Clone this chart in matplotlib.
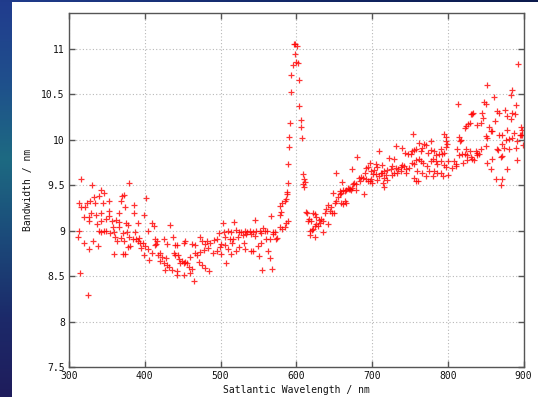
import matplotlib
matplotlib.use("Agg")
import matplotlib.pyplot as plt
import numpy as np
from matplotlib.colors import LinearSegmentedColormap

# 300 - 400 nm
wl_a = [315.8, 329.9, 379.6, 313.6, 315.4, 321.5, 323.3, 327.7, 333.4, 334.7,
        340.0, 342.2, 346.6, 345.3, 353.2, 369.9, 373.0, 368.6, 374.3, 386.2,
        385.3, 366.4, 352.3, 342.6, 335.6, 329.0, 320.2, 325.9, 326.8, 336.5,
        342.2, 348.8, 353.2, 356.7, 362.0, 365.5, 357.6, 366.4, 375.2, 377.4,
        390.6, 399.4, 312.7, 340.0, 342.2, 346.6, 348.8, 354.1, 359.8, 361.1,
        362.9, 368.6, 373.0, 370.8, 376.1, 379.6, 384.0, 380.9, 378.3, 387.5,
        388.4, 390.6, 391.9, 393.7, 395.0, 398.1, 400.7, 311.8, 320.2, 332.1,
        325.9, 338.7, 359.8, 371.7, 374.3, 399.4, 314.9, 324.6]
bw_a = [9.57, 9.50, 9.53, 9.30, 9.26, 9.26, 9.31, 9.33, 9.37, 9.30,
        9.38, 9.45, 9.41, 9.31, 9.33, 9.38, 9.39, 9.33, 9.26, 9.28,
        9.20, 9.20, 9.22, 9.20, 9.17, 9.20, 9.15, 9.11, 9.15, 9.07,
        9.11, 9.13, 9.16, 9.11, 9.12, 9.10, 9.04, 9.04, 9.08, 9.06,
        9.08, 9.17, 9.00, 9.00, 8.99, 9.00, 9.00, 8.97, 8.99, 8.93,
        8.89, 8.92, 8.89, 8.97, 8.99, 8.93, 8.91, 8.83, 8.82, 8.99,
        8.91, 8.89, 8.92, 8.86, 8.81, 8.86, 8.83, 8.93, 8.86, 8.89,
        8.80, 8.83, 8.74, 8.74, 8.74, 8.73, 8.53, 8.29]

# 400 - 500 nm
wl_b = [401.7, 409.6, 411.8, 403.9, 433.8, 437.3, 414.0, 416.2, 414.9, 413.1,
        425.0, 429.4, 440.4, 442.6, 451.4, 453.6, 462.4, 466.8, 473.4, 475.6,
        480.0, 482.2, 486.6, 491.0, 495.4, 498.5, 500.7, 404.3, 409.6, 420.6,
        417.5, 422.8, 428.1, 438.2, 439.5, 443.9, 445.7, 449.2, 453.6, 460.2,
        466.8, 469.0, 473.4, 477.8, 483.5, 489.7, 495.4, 499.8, 406.1, 420.6,
        425.0, 429.4, 427.2, 431.6, 436.0, 442.6, 447.0, 451.4, 455.8, 458.0,
        462.4, 460.2, 471.2, 475.6, 480.0, 484.4, 442.6, 451.4, 464.6]
bw_b = [9.36, 9.08, 9.05, 9.00, 9.06, 8.93, 8.91, 8.89, 8.85, 8.84,
        8.91, 8.85, 8.84, 8.84, 8.87, 8.89, 8.85, 8.84, 8.93, 8.89,
        8.85, 8.89, 8.87, 8.90, 8.91, 8.97, 8.85, 8.80, 8.76, 8.76,
        8.73, 8.71, 8.70, 8.76, 8.73, 8.73, 8.69, 8.67, 8.66, 8.71,
        8.76, 8.73, 8.77, 8.79, 8.81, 8.76, 8.78, 8.82, 8.68, 8.67,
        8.65, 8.62, 8.57, 8.60, 8.57, 8.56, 8.64, 8.65, 8.64, 8.60,
        8.58, 8.54, 8.66, 8.62, 8.59, 8.56, 8.51, 8.51, 8.45]

# 500 - 580 nm
wl_c = [503.3, 517.8, 545.1, 566.2, 578.1, 580.3, 504.6, 509.9, 514.3, 520.9,
        524.0, 527.5, 531.9, 535.4, 538.5, 542.9, 547.3, 551.7, 556.1, 558.3,
        561.8, 569.3, 572.4, 578.1, 581.6, 584.7, 586.9, 589.1, 506.4, 512.1,
        516.5, 523.1, 529.7, 534.1, 540.7, 545.1, 553.9, 560.5, 564.9, 573.7,
        569.3, 575.0, 505.5, 509.9, 515.2, 520.9, 524.0, 531.0, 531.9, 540.7,
        542.9, 549.5, 553.0, 562.7, 501.1, 514.3, 507.7, 550.4, 564.9, 554.8,
        568.0]
bw_c = [9.08, 9.10, 9.12, 9.16, 9.17, 9.21, 8.99, 9.00, 8.99, 9.01,
        8.99, 8.99, 9.00, 8.99, 9.00, 8.99, 9.00, 9.00, 9.03, 9.00,
        9.00, 8.99, 8.99, 9.04, 9.02, 9.04, 9.08, 9.11, 8.93, 8.91,
        8.91, 8.93, 8.95, 8.96, 8.96, 8.94, 8.97, 8.91, 8.91, 8.91,
        8.96, 8.92, 8.84, 8.80, 8.86, 8.78, 8.82, 8.86, 8.80, 8.78,
        8.78, 8.83, 8.86, 8.78, 8.74, 8.74, 8.64, 8.72, 8.70, 8.57,
        8.58]

# peak around 600 nm
wl_peak = [579.0, 581.2, 584.7, 586.0, 587.8, 588.2, 589.5, 589.5, 590.8, 590.8,
           591.7, 593.0, 593.5, 596.1, 596.5, 598.3, 600.5, 598.3, 599.6, 602.7,
           603.6, 604.0, 605.8, 606.2, 607.1, 608.6, 610.5, 611.2, 609.5, 609.6]
bw_peak = [9.27, 9.30, 9.33, 9.35, 9.40, 9.43, 9.53, 9.74, 9.92, 10.03,
           10.19, 10.53, 10.71, 10.82, 11.05, 11.06, 11.03, 10.95, 10.86, 10.85,
           10.66, 10.37, 10.22, 10.14, 10.02, 9.62, 9.57, 9.54, 9.51, 9.48]

# 610 - 700 nm
wl_d = [612.4, 614.2, 622.1, 624.3, 616.8, 615.5, 619.9, 626.5, 630.0, 633.1,
        635.3, 630.9, 626.5, 628.7, 624.3, 622.1, 618.6, 621.2, 617.7, 624.3,
        635.3, 641.9, 637.5, 639.7, 641.9, 644.1, 646.3, 647.6, 649.4, 650.7,
        652.9, 648.5, 652.9, 655.1, 657.3, 658.2, 659.5, 661.7, 663.9, 666.1,
        660.8, 659.5, 661.7, 663.9, 666.1, 668.3, 669.6, 671.4, 672.7, 674.0,
        674.9, 675.8, 678.4, 679.3, 680.2, 674.0, 682.8, 683.7, 685.9, 688.1,
        690.3, 692.5, 694.7, 697.8, 699.1, 692.5, 694.7, 699.1, 696.9, 689.0,
        701.3]
bw_d = [9.21, 9.20, 9.20, 9.18, 9.13, 9.11, 9.11, 9.15, 9.12, 9.13,
        9.11, 9.09, 9.07, 9.05, 9.05, 9.02, 9.00, 9.01, 8.95, 8.93,
        8.99, 9.07, 9.20, 9.24, 9.28, 9.22, 9.26, 9.20, 9.19, 9.31,
        9.33, 9.42, 9.63, 9.37, 9.40, 9.44, 9.31, 9.29, 9.33, 9.31,
        9.54, 9.42, 9.45, 9.44, 9.45, 9.47, 9.46, 9.46, 9.45, 9.47,
        9.51, 9.53, 9.51, 9.45, 9.81, 9.68, 9.58, 9.55, 9.59, 9.58,
        9.64, 9.69, 9.70, 9.75, 9.66, 9.57, 9.55, 9.57, 9.55, 9.40,
        9.62]

# 700 - 800 nm
wl_e = [754.1, 762.0, 768.6, 777.4, 795.0, 797.2, 798.1, 799.4, 732.1, 740.0,
        709.2, 722.4, 729.0, 743.5, 747.9, 751.0, 753.2, 755.4, 757.6, 764.2,
        766.4, 770.8, 774.3, 777.4, 781.8, 784.0, 788.4, 790.6, 791.9, 795.0,
        798.1, 800.7, 704.8, 707.0, 702.6, 713.6, 711.4, 715.8, 720.2, 724.6,
        726.8, 731.2, 734.7, 737.8, 740.0, 742.2, 745.3, 748.8, 752.3, 755.4,
        757.6, 762.0, 764.2, 767.3, 773.0, 777.4, 780.5, 784.0, 786.2, 790.6,
        795.0, 798.1, 704.8, 709.2, 712.7, 715.8, 718.0, 720.2, 726.8, 729.0,
        733.4, 737.8, 744.4, 755.4, 757.6, 759.8, 766.4, 770.8, 775.2, 781.8,
        786.2, 790.6, 793.7, 780.5, 707.0, 714.5, 715.8, 700.4, 761.1]
bw_e = [10.07, 9.97, 9.96, 9.99, 10.07, 10.03, 9.99, 9.96, 9.93, 9.91,
        9.88, 9.80, 9.79, 9.86, 9.84, 9.85, 9.88, 9.89, 9.90, 9.88,
        9.91, 9.94, 9.86, 9.89, 9.88, 9.83, 9.85, 9.90, 9.85, 9.86,
        9.92, 9.77, 9.73, 9.70, 9.67, 9.72, 9.63, 9.66, 9.67, 9.68,
        9.71, 9.69, 9.68, 9.70, 9.72, 9.71, 9.68, 9.69, 9.75, 9.73,
        9.78, 9.79, 9.77, 9.75, 9.71, 9.77, 9.79, 9.77, 9.74, 9.77,
        9.72, 9.70, 9.62, 9.60, 9.64, 9.58, 9.61, 9.56, 9.61, 9.64,
        9.63, 9.66, 9.63, 9.58, 9.55, 9.66, 9.64, 9.60, 9.66, 9.66,
        9.64, 9.64, 9.60, 9.60, 9.56, 9.52, 9.48, 9.52, 9.55]

# 800 - 900 nm
wl_f = [892.7, 851.3, 885.2, 861.0, 813.5, 847.8, 850.0, 883.0, 833.7, 832.4,
        830.2, 845.6, 865.4, 867.6, 875.1, 885.2, 888.3, 889.6, 846.9, 877.7,
        883.9, 823.6, 822.3, 826.7, 829.3, 839.0, 844.3, 854.4, 861.9, 878.6,
        856.6, 858.8, 887.4, 897.1, 898.4, 896.2, 814.8, 817.0, 816.1, 850.0,
        851.3, 867.6, 872.0, 876.4, 880.8, 885.2, 891.8, 895.3, 898.4, 812.6,
        823.6, 829.3, 836.8, 839.0, 843.4, 850.0, 864.5, 866.3, 872.0, 874.2,
        880.8, 889.6, 899.7, 808.2, 810.4, 814.8, 819.2, 822.3, 825.8, 830.2,
        832.4, 839.0, 841.2, 820.5, 824.9, 834.6, 852.2, 858.8, 869.8, 872.0,
        890.9, 806.0, 810.4, 800.3, 857.5, 878.6, 863.2, 872.0, 869.8]
bw_f = [10.83, 10.60, 10.55, 10.47, 10.40, 10.42, 10.39, 10.49, 10.30, 10.29,
        10.29, 10.30, 10.32, 10.30, 10.33, 10.30, 10.29, 10.38, 10.24, 10.26,
        10.23, 10.15, 10.13, 10.18, 10.19, 10.16, 10.19, 10.14, 10.21, 10.11,
        10.10, 10.10, 10.08, 10.14, 10.11, 10.05, 10.03, 10.00, 9.99, 10.04,
        10.02, 10.05, 10.05, 10.00, 10.01, 10.02, 9.99, 10.05, 10.05, 9.90,
        9.90, 9.88, 9.88, 9.86, 9.90, 9.93, 9.90, 9.89, 9.96, 9.91,
        9.90, 9.91, 9.94, 9.77, 9.74, 9.83, 9.85, 9.85, 9.83, 9.81,
        9.79, 9.83, 9.85, 9.75, 9.78, 9.78, 9.75, 9.79, 9.81, 9.82,
        9.78, 9.69, 9.71, 9.61, 9.68, 9.68, 9.57, 9.57, 9.50]

xticks = [300, 400, 500, 600, 700, 800, 900]
yticks = [7.5, 8, 8.5, 9, 9.5, 10, 10.5, 11]
ytick_labels = ["7.5", "8", "8.5", "9", "9.5", "10", "10.5", "11"]

wl = np.concatenate([wl_a, wl_b, wl_c, wl_peak, wl_d, wl_e, wl_f])
bw = np.concatenate([bw_a, bw_b, bw_c, bw_peak, bw_d, bw_e, bw_f])

plt.rcParams['font.family'] = ['DejaVu Sans Mono']

fig = plt.figure(figsize=(5.38, 3.97), dpi=100)
fig.patch.set_facecolor("white")

# blue slide decoration: left stripe and top stripe
side_cmap = LinearSegmentedColormap.from_list(
    "side", ["#213c8e", "#1f4f8c", "#1d6a82", "#1b4a7a", "#1c2a6a", "#1f1d5c"])
side = fig.add_axes([0, 0, 12 / 538, 1])
side.imshow(np.linspace(0, 1, 200).reshape(-1, 1), cmap=side_cmap, aspect="auto")
side.axis("off")
top_cmap = LinearSegmentedColormap.from_list("top", ["#203c8c", "#13296a", "#0b1a4c"])
top = fig.add_axes([0, 1 - 2.5 / 397, 1, 2.5 / 397])
top.imshow(np.linspace(0, 1, 200).reshape(1, -1), cmap=top_cmap, aspect="auto")
top.axis("off")

ax = fig.add_axes([69 / 538, 1 - 367 / 397, 454.5 / 538, (367 - 12.7) / 397])
ax.plot(wl, bw, linestyle="none", marker="+", markersize=5, markeredgewidth=0.9,
        color="#ff0000", alpha=0.8)

ax.set_xlim(300, 900)
ax.set_ylim(7.5, 11.4)
ax.set_xticks(xticks)
ax.set_yticks(yticks)
ax.set_yticklabels(ytick_labels)
ax.grid(True, linestyle=(0, (1, 2)), color="#b8b8b8", linewidth=0.8)
ax.tick_params(direction="in", length=4, width=1, color="#555555",
               top=True, right=True, labelsize=7, labelcolor="#111111", pad=3)
for s in ax.spines.values():
    s.set_color("#555555")
    s.set_linewidth(1.0)

ax.set_xlabel("Satlantic Wavelength / nm", fontsize=7, color="#111111", labelpad=3)
ax.set_ylabel("Bandwidth / nm", fontsize=7, color="#111111", labelpad=6)

fig.savefig("out.png", dpi=100)
